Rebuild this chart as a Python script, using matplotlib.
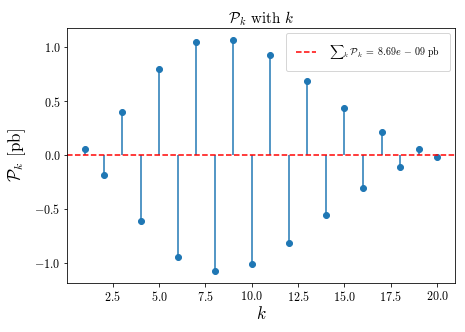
import numpy as np
import matplotlib
matplotlib.use('Agg')
import matplotlib.pyplot as plt

plt.rcParams['font.family'] = 'serif'
plt.rcParams['font.serif'] = ['cmr10']
plt.rcParams['mathtext.fontset'] = 'cm'
plt.rcParams['axes.formatter.use_mathtext'] = True
plt.rcParams['axes.unicode_minus'] = True

# Valores
k = np.arange(1, 21)
P_k = [0.055, -0.19, 0.40, -0.61, 0.80, -0.95, 1.045, -1.08, 1.07, -1.01,
       0.925, -0.815, 0.69, -0.56, 0.435, -0.31, 0.21, -0.115, 0.055, -0.015]
suma_label = r'${\sum}_k\, \mathcal{P}_k \;=\; 8.69e \,-\, 09$ pb'

fig, ax = plt.subplots(figsize=(465 / 72, 332 / 72), dpi=72)
fig.subplots_adjust(left=0.145, right=0.978, top=0.915, bottom=0.148)

ax.stem(k, P_k, basefmt=' ')
ax.axhline(0, color='red', linestyle='--', label=suma_label)

ax.set_xlabel(r'$k$', fontsize=17, labelpad=1)
ax.set_ylabel(r'$\mathcal{P}_k$ [pb]', fontsize=17, labelpad=6)
ax.set_title(r'$\mathcal{P}_k$ with $k$', fontsize=15, pad=5)
ax.tick_params(labelsize=12)
ax.legend(loc='upper right', fontsize=10, borderpad=1.0, handletextpad=1.3)

fig.savefig('out.png')
